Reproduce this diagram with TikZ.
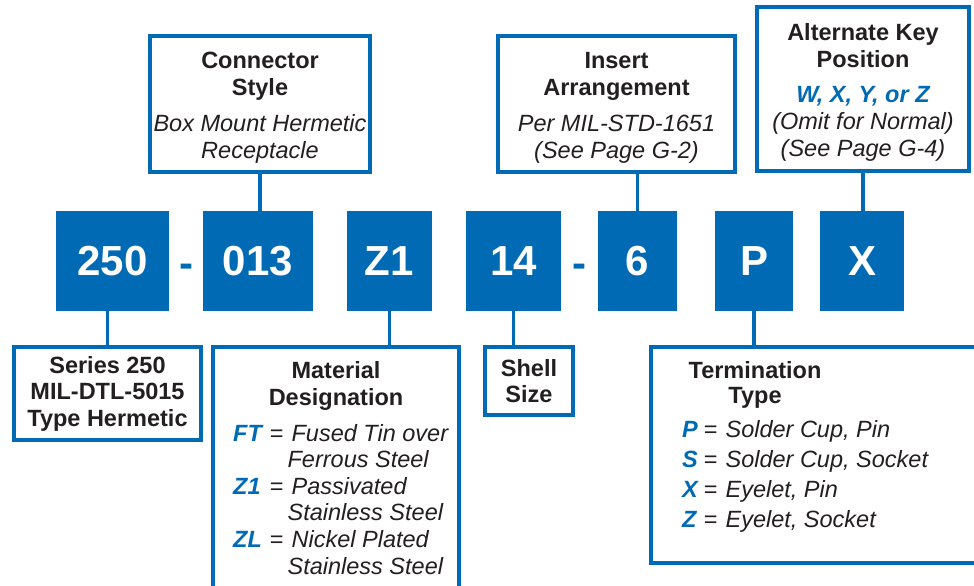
\documentclass[tikz,border=0pt]{standalone}
\usepackage{fontspec}
\setmainfont{Liberation Sans}
\definecolor{pblue}{RGB}{0,106,180}
\definecolor{ink}{RGB}{35,31,32}
\newcommand\opt[1]{\textcolor{pblue}{\bfseries\itshape #1}}

\begin{document}
\begin{tikzpicture}
  [x=1pt,y=-1pt,
   code/.style={fill=pblue,text=white,minimum height=100pt,inner sep=0pt,
     font=\bfseries\fontsize{42}{42}\selectfont},
   hyphen/.style={text=pblue,anchor=base,inner sep=0pt,
     font=\bfseries\fontsize{42}{42}\selectfont},
   info/.style={draw=pblue,line width=3.5pt,fill=white,align=center,inner sep=0pt,
     text=ink,font=\fontsize{23.5}{27}\selectfont},
   label/.style={text=ink,inner sep=0pt},
   link/.style={draw=pblue,line width=3.5pt}]
  \clip (0,0) rectangle (974,586);

  \node[code,minimum width=113pt] (c250) at (112.5,261) {250};
  \node[code,minimum width=110pt] (c013) at (258,261)   {013};
  \node[code,minimum width=85pt]  (cz1)  at (389.5,261) {Z1};
  \node[code,minimum width=95pt]  (c14)  at (513.5,261) {14};
  \node[code,minimum width=79pt]  (c6)   at (637.5,261) {6};
  \node[code,minimum width=78pt]  (cp)   at (754,261)   {P};
  \node[code,minimum width=84pt]  (cx)   at (862,261)   {X};
  \node[hyphen] (h1) at (186,277)   {-};
  \node[hyphen] (h2) at (579.5,277) {-};

  \node[info,minimum width=220pt,minimum height=136pt] (conn) at (260,104)
    {\rule{0pt}{23pt}\textbf{Connector}\\\textbf{Style}\\[9pt]\textit{Box Mount Hermetic}\\\textit{Receptacle}};
  \node[info,minimum width=237pt,minimum height=136pt] (ins) at (616.5,104)
    {\rule{0pt}{23pt}\textbf{Insert}\\\textbf{Arrangement}\\[9pt]\textit{Per MIL-STD-1651}\\\textit{(See Page G-2)}};
  \node[info,minimum width=212pt,minimum height=164pt] (alt) at (863,89)
    {\rule{0pt}{24pt}\textbf{Alternate Key}\\\textbf{Position}\\[8pt]\opt{W, X, Y, or Z}\\\textit{(Omit for Normal)}\\\textit{(See Page G-4)}};

  \node[info,minimum width=187pt,minimum height=93pt,font=\bfseries\fontsize{23.5}{26.5}\selectfont]
    (series) at (107.5,393.5) {Series 250\\MIL-DTL-5015\\Type Hermetic};
  \node[info,minimum width=88pt,minimum height=68pt,font=\bfseries\fontsize{23.5}{26}\selectfont]
    (shell) at (529,381) {Shell\\Size};
  \node[info,minimum width=246pt,minimum height=293pt] (mat) at (336,493.5) {};
  \node[info,minimum width=349pt,minimum height=216pt] (term) at (825.5,455) {};

  \node[label,anchor=base,font=\bfseries\fontsize{23.5}{27}\selectfont] (matt) at (336,378)
    {\begin{tabular}[t]{@{}c@{}}Material\\Designation\end{tabular}};
  \node[label,anchor=base west,font=\fontsize{23.5}{26.6}\selectfont] (matl) at (233,441)
    {\begin{tabular}[t]{@{}l@{\hspace{8pt}}c@{\hspace{8pt}}l@{}}
      \opt{FT} & = & \textit{Fused Tin over}\\
               &   & \hspace{-4pt}\textit{Ferrous Steel}\\
      \opt{Z1} & = & \textit{Passivated}\\
               &   & \hspace{-4pt}\textit{Stainless Steel}\\
      \opt{ZL} & = & \textit{Nickel Plated}\\
               &   & \hspace{-4pt}\textit{Stainless Steel}
    \end{tabular}};

  \node[label,anchor=base,font=\bfseries\fontsize{23.5}{25.5}\selectfont] (termt) at (755,378)
    {\begin{tabular}[t]{@{}c@{}}Termination\\Type\end{tabular}};
  \node[label,anchor=base west,font=\fontsize{23.5}{30}\selectfont] (terml) at (682,437)
    {\begin{tabular}[t]{@{}l@{\hspace{6pt}}c@{\hspace{8pt}}l@{}}
      \opt{P} & = & \textit{Solder Cup, Pin}\\
      \opt{S} & = & \textit{Solder Cup, Socket}\\
      \opt{X} & = & \textit{Eyelet, Pin}\\
      \opt{Z} & = & \textit{Eyelet, Socket}
    \end{tabular}};

  \foreach \from/\to in {conn/c013,alt/cx,cz1/mat,c14/shell,cp/term}
    \draw[link] (\from.south) -- (\from.south |- \to.north);
  \foreach \from/\to in {c6/ins,series/c250}
    \draw[link] (\from.north) -- (\from.north |- \to.south);
\end{tikzpicture}
\end{document}
